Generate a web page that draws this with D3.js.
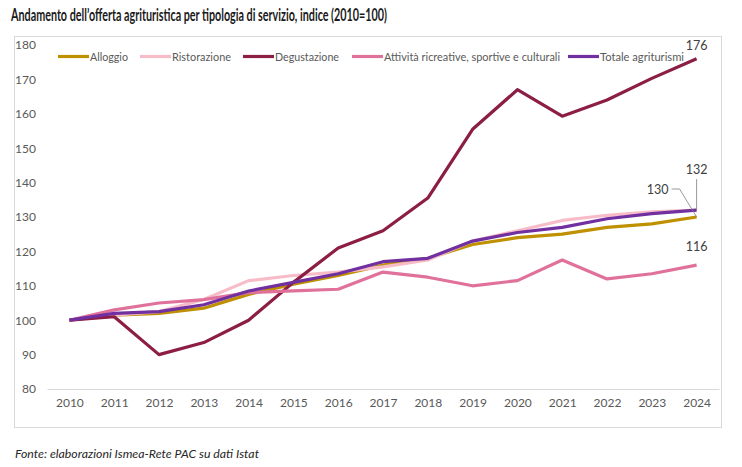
<!DOCTYPE html>
<html>
<head>
<meta charset="utf-8">
<script src="https://cdn.jsdelivr.net/npm/d3@7"></script>
<style>
  body { margin: 0; background: #fff; }
  text { font-family: Lato, "Open Sans", sans-serif; }
</style>
</head>
<body>
<div id="wrapper"></div>
<script>
// data
const years = [2010, 2011, 2012, 2013, 2014, 2015, 2016, 2017, 2018, 2019, 2020, 2021, 2022, 2023, 2024]
const alloggio      = [100, 101.5, 102, 103.5, 107.5, 110.5, 113, 116, 118, 122, 124, 125, 127, 128, 130]
const ristorazione  = [100, 101.5, 102.5, 106, 111.5, 113, 114, 115.5, 117.5, 123, 126, 129, 130.5, 131.5, 132]
const degustazione  = [100, 101, 90, 93.5, 100, 111, 121, 126, 135.5, 155.5, 167, 159.3, 164, 170.3, 176]
const attivita      = [100, 103, 105, 106, 108, 108.5, 109, 114, 112.5, 110, 111.5, 117.5, 112, 113.5, 116]
const totale        = [100, 102, 102.5, 104.5, 108.5, 111, 113.5, 117, 118, 123, 125.5, 127, 129.5, 131, 132]
const seriesNames = ["Alloggio", "Ristorazione", "Degustazione", "Attività ricreative, sportive e culturali", "Totale agriturismi"]
const yTicks = [80, 90, 100, 110, 120, 130, 140, 150, 160, 170, 180]

const series = [
  {name: seriesNames[0], values: alloggio, color: "#bf9000"},
  {name: seriesNames[1], values: ristorazione, color: "#f7bcc8"},
  {name: seriesNames[2], values: degustazione, color: "#8c1d44"},
  {name: seriesNames[3], values: attivita, color: "#e0719b"},
  {name: seriesNames[4], values: totale, color: "#7030a0"},
]

const dimensions = {
  width: 742,
  height: 467,
  margin: {top: 45, right: 23, bottom: 78, left: 47},
}
dimensions.boundedWidth = dimensions.width - dimensions.margin.left - dimensions.margin.right
dimensions.boundedHeight = dimensions.height - dimensions.margin.top - dimensions.margin.bottom

const svg = d3.select("#wrapper")
  .append("svg")
    .attr("width", dimensions.width)
    .attr("height", dimensions.height)

// title
svg.append("text")
    .attr("x", 11)
    .attr("y", 21)
    .attr("font-size", 16.5)
    .attr("font-weight", "bold")
    .attr("fill", "#1a1a1a")
    .attr("textLength", 376)
    .attr("lengthAdjust", "spacingAndGlyphs")
    .text("Andamento dell’offerta agrituristica per tipologia di servizio, indice (2010=100)")

// chart frame
svg.append("rect")
    .attr("x", 14.5)
    .attr("y", 36.5)
    .attr("width", 707)
    .attr("height", 391)
    .attr("fill", "none")
    .attr("stroke", "#d9d9d9")

const bounds = svg.append("g")
    .attr("transform", `translate(${dimensions.margin.left}, ${dimensions.margin.top})`)

// scales
const xScale = d3.scalePoint()
  .domain(years)
  .range([0, dimensions.boundedWidth])
  .padding(0.5)

const yScale = d3.scaleLinear()
  .domain([80, 180])
  .range([dimensions.boundedHeight, 0])

// axes
const xAxis = bounds.append("g")
    .attr("transform", `translate(0, ${dimensions.boundedHeight})`)
    .call(d3.axisBottom(xScale).tickSize(0).tickPadding(9))
xAxis.select(".domain").attr("stroke", "#d9d9d9")
xAxis.selectAll("text")
    .attr("font-size", 12)
    .attr("fill", "#595959")
    .style("font-family", "Lato, Open Sans, sans-serif")

const yAxis = bounds.append("g")
    .call(d3.axisLeft(yScale).tickValues(yTicks).tickSize(0).tickPadding(11))
yAxis.select(".domain").remove()
yAxis.selectAll("text")
    .attr("font-size", 12)
    .attr("fill", "#595959")
    .style("font-family", "Lato, Open Sans, sans-serif")

// lines
const lineGenerator = d3.line()
  .x((d, i) => xScale(years[i]))
  .y(d => yScale(d))

bounds.selectAll(".series")
  .data(series)
  .enter().append("path")
    .attr("class", "series")
    .attr("d", d => lineGenerator(d.values))
    .attr("fill", "none")
    .attr("stroke", d => d.color)
    .attr("stroke-width", 3.2)
    .attr("stroke-linejoin", "round")

// end labels
const last = years.length - 1
const xEnd = xScale(years[last])
const labelStyle = sel => sel
    .attr("font-size", 12.5)
    .attr("fill", "#404040")
    .attr("dominant-baseline", "central")

bounds.append("text")
    .attr("x", xEnd)
    .attr("y", yScale(degustazione[last]) - 13)
    .attr("text-anchor", "middle")
    .call(labelStyle)
    .text(d3.format(".0f")(degustazione[last]))

bounds.append("text")
    .attr("x", xEnd)
    .attr("y", yScale(totale[last]) - 41)
    .attr("text-anchor", "middle")
    .call(labelStyle)
    .text(d3.format(".0f")(totale[last]))

bounds.append("line")
    .attr("x1", xEnd).attr("x2", xEnd)
    .attr("y1", yScale(totale[last]) - 31)
    .attr("y2", yScale(totale[last]))
    .attr("stroke", "#7f7f7f")
    .attr("stroke-width", 0.8)

bounds.append("text")
    .attr("x", xEnd - 28)
    .attr("y", yScale(alloggio[last]) - 28)
    .attr("text-anchor", "end")
    .call(labelStyle)
    .text(d3.format(".0f")(alloggio[last]))

bounds.append("polyline")
    .attr("points", [
      [xEnd - 25, yScale(alloggio[last]) - 28],
      [xEnd - 17, yScale(alloggio[last]) - 28],
      [xEnd, yScale(alloggio[last])],
    ].join(" "))
    .attr("fill", "none")
    .attr("stroke", "#7f7f7f")
    .attr("stroke-width", 0.8)

bounds.append("text")
    .attr("x", xEnd)
    .attr("y", yScale(attivita[last]) - 19)
    .attr("text-anchor", "middle")
    .call(labelStyle)
    .text(d3.format(".0f")(attivita[last]))

// legend
const legendX = [58, 140, 243, 352, 568]
const legendTextWidth = [38, 59, 64, 176, 84]
const legend = svg.append("g")
    .attr("transform", "translate(0, 56.5)")

const legendItems = legend.selectAll("g")
  .data(series)
  .enter().append("g")
    .attr("transform", (d, i) => `translate(${legendX[i]}, 0)`)

legendItems.append("line")
    .attr("x1", 0).attr("x2", 31)
    .attr("stroke", d => d.color)
    .attr("stroke-width", 3.2)

legendItems.append("text")
    .attr("x", 32)
    .attr("font-size", 11.5)
    .attr("fill", "#595959")
    .attr("dominant-baseline", "central")
    .attr("textLength", (d, i) => legendTextWidth[i])
    .attr("lengthAdjust", "spacingAndGlyphs")
    .text(d => d.name)

// source
svg.append("text")
    .attr("x", 15)
    .attr("y", 458)
    .attr("font-size", 12)
    .attr("font-style", "italic")
    .attr("fill", "#262626")
    .attr("textLength", 244)
    .attr("lengthAdjust", "spacingAndGlyphs")
    .text("Fonte: elaborazioni Ismea-Rete PAC su dati Istat")
</script>
</body>
</html>
